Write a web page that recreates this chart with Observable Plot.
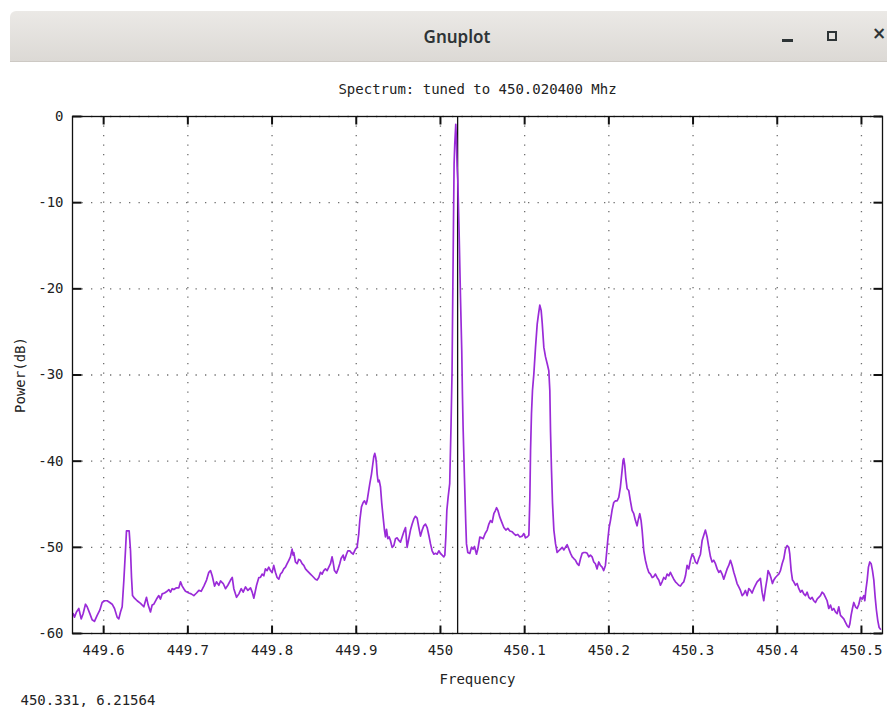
<!DOCTYPE html>
<html>
<head>
<meta charset="utf-8">
<script src="https://cdn.jsdelivr.net/npm/d3@7"></script>
<script src="https://cdn.jsdelivr.net/npm/@observablehq/plot@0.6"></script>
<style>
  html, body { margin: 0; padding: 0; background: #fff; }
  body { width: 887px; height: 711px; overflow: hidden; position: relative; }
  #bar {
    position: absolute; left: 10px; top: 11px; width: 877px; height: 50px;
    background: linear-gradient(#ebe9e6, #dcd9d5);
    border-top-left-radius: 6px;
    border-bottom: 1px solid #cdc9c4;
  }
  #bar .title {
    position: absolute; left: 0; width: 894px; top: 0; line-height: 52px; text-align: center;
    font-family: "Noto Sans", "DejaVu Sans", sans-serif; font-weight: 600; font-size: 17px; color: #2e3436;
  }
  #bar .min { position: absolute; left: 772px; top: 28px; width: 11px; height: 3px; background: #2e3436; }
  #bar .max { position: absolute; left: 817px; top: 20px; width: 6px; height: 6px; border: 2px solid #2e3436; }
  #bar .close { position: absolute; left: 862px; top: 12px; font-family: "DejaVu Sans", sans-serif; font-size: 17px; font-weight: bold; color: #2e3436; }
  #chart { position: absolute; left: 0; top: 62px; }
</style>
</head>
<body>
<div id="bar"><div class="title">Gnuplot</div><div class="min"></div><div class="max"></div><div class="close">×</div></div>
<div id="chart"></div>
<script>
const chartTitle = "Spectrum: tuned to 450.020400 Mhz";
const xLabel = "Frequency";
const yLabel = "Power(dB)";
const cursorReadout = "450.331, 6.21564";
const xDomain = [449.563, 450.525];
const yDomain = [-60, 0];
const xTicks = [449.6, 449.7, 449.8, 449.9, 450, 450.1, 450.2, 450.3, 450.4, 450.5];
const xTickLabels = ["449.6", "449.7", "449.8", "449.9", "450", "450.1", "450.2", "450.3", "450.4", "450.5"];
const yTicks = [0, -10, -20, -30, -40, -50, -60];
const yTickLabels = ["0", "-10", "-20", "-30", "-40", "-50", "-60"];
const tunedMHz = 450.0204;

const freq = [
449.5638,449.5654,449.5677,449.5705,449.5733,449.5756,449.5784,449.5804,449.5836,449.5863,
449.5891,449.5923,449.5954,449.5982,449.6010,449.6042,449.6073,449.6101,449.6129,449.6160,
449.6180,449.6200,449.6220,449.6240,449.6259,449.6271,449.6287,449.6303,449.6319,449.6331,
449.6343,449.6366,449.6398,449.6438,449.6477,449.6509,449.6529,449.6556,449.6576,449.6596,
449.6628,449.6655,449.6675,449.6695,449.6723,449.6754,449.6774,449.6794,449.6814,449.6834,
449.6865,449.6893,449.6913,449.6933,449.6952,449.6972,449.7012,449.7040,449.7071,449.7103,
449.7131,449.7158,449.7190,449.7222,449.7249,449.7269,449.7289,449.7317,449.7340,449.7368,
449.7388,449.7420,449.7447,449.7475,449.7507,449.7527,449.7546,449.7578,449.7606,449.7634,
449.7657,449.7685,449.7713,449.7744,449.7764,449.7784,449.7816,449.7843,
449.7862,449.7882,449.7902,449.7921,449.7941,449.7961,449.7981,449.8001,449.8020,449.8040,
449.8060,449.8080,449.8100,449.8119,449.8139,449.8159,449.8179,449.8199,449.8218,449.8238,
449.8250,449.8258,449.8278,449.8298,449.8317,449.8337,449.8357,449.8377,449.8397,449.8416,
449.8436,449.8456,449.8476,449.8496,449.8515,449.8535,449.8555,449.8575,449.8595,449.8614,
449.8634,449.8654,449.8674,449.8694,449.8713,449.8725,449.8741,449.8765,449.8785,449.8804,
449.8820,449.8844,449.8860,449.8884,449.8900,449.8923,449.8939,449.8963,449.8991,449.9010,
449.9030,449.9042,449.9062,449.9082,449.9098,449.9117,449.9129,449.9145,449.9161,449.9181,
449.9197,449.9208,449.9220,449.9232,449.9240,449.9248,449.9260,449.9272,449.9288,449.9303,
449.9319,449.9335,449.9347,449.9359,449.9375,449.9391,449.9406,449.9426,449.9446,449.9466,
449.9486,449.9505,449.9525,449.9545,449.9565,449.9585,449.9604,449.9624,449.9644,449.9664,
449.9684,449.9703,449.9723,449.9743,449.9763,449.9783,449.9802,449.9822,449.9842,449.9862,
449.9882,449.9901,449.9921,449.9941,449.9961,449.9981,450.0000,450.0020,450.0040,450.0052,
450.0064,450.0076,450.0091,
450.0110,450.0126,450.0138,450.0146,450.0154,450.0162,450.0170,450.0182,450.0190,450.0198,
450.0206,450.0221,450.0237,450.0253,450.0261,450.0269,450.0285,450.0301,
450.0309,450.0325,450.0349,450.0369,450.0388,450.0404,450.0428,450.0444,450.0468,450.0491,
450.0507,450.0531,450.0555,450.0575,450.0594,450.0614,450.0634,450.0654,450.0666,450.0682,
450.0705,450.0729,450.0753,450.0777,450.0800,450.0824,450.0852,450.0872,450.0895,450.0919,
450.0943,450.0971,450.0990,450.1010,450.1030,450.1050,450.1062,450.1070,450.1081,450.1093,
450.1109,450.1129,450.1149,450.1165,450.1180,450.1196,450.1208,450.1228,450.1248,450.1268,
450.1287,450.1299,450.1307,450.1319,450.1331,450.1347,450.1367,450.1386,450.1406,450.1426,
450.1446,450.1466,450.1485,450.1505,450.1525,450.1545,450.1565,450.1584,450.1604,450.1624,
450.1644,450.1664,450.1683,450.1703,450.1723,450.1743,450.1763,
450.1781,450.1801,450.1821,450.1840,450.1860,450.1880,450.1900,450.1920,450.1939,450.1959,
450.1971,450.1987,450.2003,450.2019,450.2038,450.2058,450.2078,450.2098,450.2118,450.2137,
450.2157,450.2169,450.2177,450.2189,450.2201,450.2217,450.2236,450.2256,450.2276,450.2296,
450.2316,450.2335,450.2347,450.2367,450.2383,450.2395,450.2415,450.2434,450.2454,450.2474,
450.2494,450.2514,450.2533,450.2553,450.2573,450.2593,450.2613,450.2632,450.2652,450.2672,
450.2692,450.2712,450.2731,450.2751,450.2771,450.2791,450.2811,450.2830,450.2850,450.2870,
450.2890,450.2910,450.2929,450.2949,450.2969,450.2989,450.3009,450.3028,450.3048,450.3068,
450.3088,450.3108,450.3127,450.3147,450.3167,450.3187,450.3207,450.3226,450.3246,450.3266,
450.3286,450.3306,450.3325,450.3345,450.3365,450.3385,450.3405,450.3424,
450.3444,450.3464,450.3484,450.3503,450.3523,450.3543,450.3563,450.3583,450.3602,450.3622,
450.3642,450.3662,450.3682,450.3701,450.3721,450.3741,450.3761,450.3781,450.3800,450.3820,
450.3840,450.3860,450.3880,450.3891,450.3911,450.3927,450.3943,450.3959,450.3979,450.3998,
450.4018,450.4038,450.4058,450.4078,450.4097,450.4117,450.4137,450.4149,450.4165,450.4181,
450.4196,450.4216,450.4236,450.4256,450.4276,450.4295,450.4315,450.4335,450.4355,450.4375,
450.4394,450.4414,450.4434,450.4454,450.4474,450.4493,450.4513,450.4533,450.4553,450.4573,
450.4592,450.4612,450.4632,450.4652,450.4672,450.4691,450.4711,450.4731,450.4751,450.4771,
450.4790,450.4810,450.4830,450.4850,450.4862,450.4877,450.4893,450.4909,450.4929,450.4949,
450.4969,450.4988,450.5008,450.5028,450.5040,450.5052,450.5068,450.5083,450.5099,450.5115,
450.5131,450.5147,450.5163,450.5178,450.5194,450.5210,450.5226
];

const power = [
-57.7,-58.1,-57.5,-57.1,-58.3,-57.7,-56.6,-56.9,-57.7,-58.4,
-58.6,-57.9,-57.3,-56.4,-56.2,-56.2,-56.4,-56.6,-57.1,-58.1,
-58.3,-57.5,-56.9,-53.8,-50.4,-48.1,-48.1,-48.1,-50.4,-53.5,
-55.6,-55.9,-56.2,-56.5,-56.9,-55.8,-56.7,-57.5,-56.7,-56.6,
-56.0,-55.6,-56.0,-55.4,-55.3,-55.1,-54.9,-55.2,-54.8,-54.9,
-54.7,-54.7,-54.0,-54.5,-54.8,-55.1,-55.3,-55.4,-55.6,-55.3,
-55.0,-55.1,-54.5,-53.8,-52.9,-52.7,-53.3,-54.5,-54.0,-54.4,
-53.9,-54.2,-54.8,-54.4,-53.8,-53.5,-54.8,-55.8,-55.4,-54.8,
-55.2,-54.6,-55.0,-54.7,-55.2,-55.9,-54.4,-53.5,
-53.5,-53.1,-53.3,-52.5,-52.7,-52.3,-52.7,-52.9,-52.1,-52.9,
-53.5,-53.7,-53.1,-52.9,-52.5,-52.3,-51.9,-51.5,-51.1,-50.2,
-50.9,-50.6,-51.7,-51.9,-51.4,-51.5,-51.9,-52.1,-52.5,-52.7,
-52.9,-53.1,-53.3,-53.5,-53.7,-53.8,-53.5,-52.9,-53.1,-52.7,
-52.5,-52.7,-52.3,-51.9,-51.1,-51.7,-52.7,-53.0,-52.5,-51.9,
-51.3,-50.9,-51.5,-50.8,-50.4,-50.4,-50.6,-50.8,-50.2,-50.0,
-48.4,-46.9,-45.3,-44.8,-44.6,-45.0,-44.6,-43.6,-42.6,-41.5,
-40.3,-39.5,-39.1,-39.6,-40.3,-41.5,-42.4,-42.2,-43.0,-44.9,
-46.5,-48.0,-48.8,-47.9,-49.0,-48.8,-49.2,-50.0,-49.8,-49.0,
-48.9,-49.2,-49.4,-48.8,-48.2,-47.7,-50.0,-49.0,-48.0,-47.3,
-46.7,-46.4,-46.6,-47.7,-48.7,-48.0,-47.5,-47.3,-47.7,-48.6,
-49.6,-50.4,-50.8,-50.7,-50.8,-50.4,-50.7,-50.9,-51.1,-50.9,
-48.8,-45.7,-44.2,
-42.6,-35.7,-29.5,-21.0,-13.2,-5.5,-3.2,-0.9,-2.8,-5.9,
-7.4,-13.2,-20.6,-27.2,-32.2,-36.1,-41.9,-47.3,
-49.6,-50.6,-50.7,-50.0,-50.2,-49.9,-50.8,-50.2,-48.8,-48.9,
-49.0,-48.4,-48.0,-47.3,-46.9,-47.1,-46.1,-45.7,-45.4,-45.7,
-46.5,-47.1,-47.7,-48.0,-47.8,-48.1,-48.2,-48.4,-48.6,-48.5,
-48.8,-48.7,-48.4,-48.9,-48.8,-48.6,-44.2,-38.8,-34.5,-31.8,
-29.9,-26.8,-24.1,-22.9,-21.9,-22.5,-23.9,-26.8,-27.9,-28.7,
-29.5,-31.8,-36.4,-41.1,-44.9,-48.0,-49.6,-50.6,-50.4,-50.2,
-50.0,-50.3,-50.0,-49.7,-50.2,-50.7,-51.1,-51.3,-51.5,-51.9,
-52.1,-51.3,-50.7,-50.6,-50.6,-50.7,-51.1,
-50.9,-51.1,-51.7,-51.9,-52.5,-51.7,-52.1,-52.3,-52.7,-52.1,
-50.9,-49.2,-47.7,-46.9,-45.7,-44.8,-44.6,-44.6,-44.2,-43.0,
-41.1,-39.9,-39.7,-40.5,-41.9,-43.2,-43.4,-44.6,-45.7,-46.1,
-46.9,-47.5,-46.9,-46.1,-46.9,-48.0,-50.4,-51.5,-52.3,-52.9,
-53.1,-53.5,-53.4,-53.1,-53.5,-53.8,-54.4,-54.0,-53.5,-53.7,
-53.1,-53.3,-52.9,-53.3,-53.7,-54.0,-54.2,-54.4,-54.5,-54.2,
-54.0,-53.3,-52.1,-52.5,-51.5,-50.8,-51.1,-51.7,-51.9,-51.3,
-50.8,-49.2,-48.6,-48.0,-48.8,-50.0,-51.1,-51.7,-51.5,-51.9,
-52.5,-52.9,-52.7,-53.1,-53.7,-53.1,-52.5,-52.1,
-51.5,-52.1,-52.9,-53.5,-54.2,-54.6,-55.0,-55.6,-55.4,-55.0,
-55.6,-54.8,-55.0,-55.3,-54.8,-54.4,-54.0,-53.8,-53.6,-55.2,
-56.2,-54.8,-53.6,-52.7,-53.1,-53.6,-54.2,-53.8,-53.5,-53.3,
-53.1,-52.7,-51.9,-51.3,-50.2,-49.8,-50.0,-50.8,-52.7,-53.8,
-54.0,-54.4,-54.2,-54.8,-55.2,-55.0,-55.4,-55.6,-55.2,-55.8,
-56.0,-55.8,-56.2,-56.4,-56.0,-55.8,-55.6,-55.2,-55.4,-55.8,
-56.2,-57.1,-56.7,-57.3,-57.1,-57.5,-57.7,-56.9,-57.9,-58.1,
-58.3,-58.7,-59.1,-59.3,-58.9,-57.9,-57.1,-56.4,-56.9,-57.1,
-56.6,-55.8,-56.0,-55.6,-56.2,-55.0,-53.8,-52.3,-51.7,-51.9,
-52.7,-53.8,-55.8,-57.3,-58.5,-59.3,-59.5
];

const spectrum = freq.map((f, i) => ({f, p: power[i]}));
const xLabelOf = new Map(xTicks.map((t, i) => [t, xTickLabels[i]]));
const yLabelOf = new Map(yTicks.map((t, i) => [t, yTickLabels[i]]));

const font = '"DejaVu Sans Mono", monospace';
const gridStyle = {stroke: "#555", strokeOpacity: 0.85, strokeWidth: 1.3, strokeDasharray: "1.3,8.2"};
const tickStroke = {stroke: "#111", strokeWidth: 2, fill: "none"};
const textStyle = {fill: "#222", fontSize: 14, lineAnchor: "middle", textAnchor: "middle", text: d => d};

// short inward tick symbols (gnuplot-style tics drawn on all four borders)
const tic = (dx, dy) => ({draw(context) { context.moveTo(0, 0); context.lineTo(dx, dy); }});
const ticUp = tic(0, -8), ticDown = tic(0, 8), ticRight = tic(9, 0), ticLeft = tic(-9, 0);

const chart = Plot.plot({
  width: 887,
  height: 649,
  marginLeft: 72,
  marginRight: 5,
  marginTop: 54,
  marginBottom: 78,
  style: {fontFamily: font, fontSize: "14px", color: "#222", background: "white", overflow: "visible"},
  x: {domain: xDomain, label: null},
  y: {domain: yDomain, label: null},
  marks: [
    Plot.gridX(xTicks, gridStyle),
    Plot.gridY(yTicks, gridStyle),
    Plot.ruleX([tunedMHz], {stroke: "#111", strokeWidth: 1.3}),
    Plot.line(spectrum, {x: "f", y: "p", stroke: "#9a2bd8", strokeWidth: 1.7}),
    Plot.frame({stroke: "#111", strokeWidth: 1.3}),
    Plot.dot(xTicks, {x: d => d, y: yDomain[0], symbol: ticUp, ...tickStroke}),
    Plot.dot(xTicks, {x: d => d, y: yDomain[1], symbol: ticDown, ...tickStroke}),
    Plot.dot(yTicks, {x: xDomain[0], y: d => d, symbol: ticRight, ...tickStroke}),
    Plot.dot(yTicks, {x: xDomain[1], y: d => d, symbol: ticLeft, ...tickStroke}),
    Plot.axisX(xTicks, {anchor: "bottom", tickSize: 0, tickPadding: 12, label: null, tickFormat: d => xLabelOf.get(d), fill: "#222"}),
    Plot.axisY(yTicks, {anchor: "left", tickSize: 0, tickPadding: 9, label: null, tickFormat: d => yLabelOf.get(d), fill: "#222"}),
    Plot.text([chartTitle], {frameAnchor: "top", dy: -27, ...textStyle}),
    Plot.text([xLabel], {frameAnchor: "bottom", dy: 46, ...textStyle}),
    Plot.text([yLabel], {frameAnchor: "left", dx: -52, rotate: -90, ...textStyle}),
    Plot.text([cursorReadout], {frameAnchor: "bottom-left", dx: -52, dy: 67, ...textStyle, textAnchor: "start"})
  ]
});
document.getElementById("chart").appendChild(chart);
</script>
</body>
</html>
